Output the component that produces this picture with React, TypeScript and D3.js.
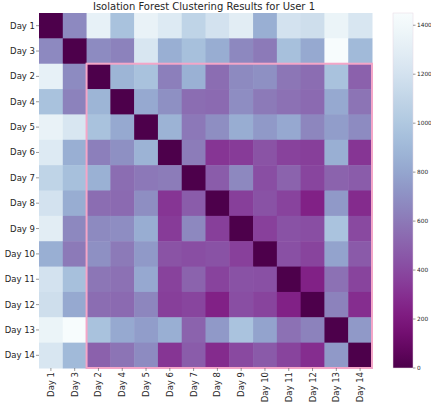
import React from 'react';
import * as d3 from 'd3';

// row/column order as in the picture
const days = ['Day 1', 'Day 3', 'Day 2', 'Day 4', 'Day 5', 'Day 6', 'Day 7', 'Day 8', 'Day 9', 'Day 10', 'Day 11', 'Day 12', 'Day 13', 'Day 14'];

// pairwise distances
const distances = [
  [0, 670, 1330, 960, 1340, 1260, 1090, 1200, 1290, 850, 1200, 1170, 1360, 1230],
  [670, 0, 680, 640, 1230, 850, 950, 840, 665, 605, 950, 820, 1450, 910],
  [1330, 680, 0, 880, 960, 630, 860, 550, 675, 700, 590, 550, 960, 500],
  [960, 640, 880, 0, 820, 700, 550, 540, 690, 605, 570, 540, 820, 580],
  [1340, 1230, 960, 820, 0, 870, 600, 695, 840, 740, 815, 660, 760, 680],
  [1260, 850, 630, 700, 870, 0, 615, 320, 345, 440, 370, 360, 850, 320],
  [1090, 950, 860, 550, 600, 615, 0, 480, 665, 420, 510, 385, 510, 480],
  [1200, 840, 550, 540, 695, 320, 480, 0, 360, 435, 375, 240, 740, 280],
  [1290, 665, 675, 690, 840, 345, 665, 360, 0, 365, 435, 420, 970, 400],
  [850, 605, 700, 605, 740, 440, 420, 435, 365, 0, 430, 380, 790, 470],
  [1200, 950, 590, 570, 815, 370, 510, 375, 435, 430, 0, 240, 570, 380],
  [1170, 820, 550, 540, 660, 360, 385, 240, 420, 380, 240, 0, 640, 290],
  [1360, 1450, 960, 820, 760, 850, 510, 740, 970, 790, 570, 640, 0, 740],
  [1230, 910, 500, 580, 680, 320, 480, 280, 400, 470, 380, 290, 740, 0],
];

const colorTicks = [0, 200, 400, 600, 800, 1000, 1200, 1400];
const title = 'Isolation Forest Clustering Results for User 1';

const W = 431;
const H = 402;
const left = 39;
const right = 372;
const top = 13;
const bottom = 368;
const cbX = 393;
const cbW = 20;
const font = 'DejaVu Sans, sans-serif';
const textColor = '#262626';

export default function App() {
  const vmax = d3.max(distances.flat()) as number;
  const color = d3.scaleSequential((t: number) => d3.interpolateBuPu(1 - t)).domain([0, vmax]);

  const x = d3.scaleBand<string>().domain(days).range([left, right]);
  const y = d3.scaleBand<string>().domain(days).range([top, bottom]);
  const cy = d3.scaleLinear().domain([0, vmax]).range([bottom, top]);

  const stops = d3.range(0, 1.0001, 0.05);
  const boxStart = days.indexOf('Day 2');

  return (
    <svg width={W} height={H} style={{ position: 'absolute', left: 0, top: 0, background: '#fff' }} fontFamily={font}>
      <defs>
        <linearGradient id="cb" x1="0" y1="1" x2="0" y2="0">
          {stops.map((s) => (
            <stop key={s} offset={s} stopColor={color(s * vmax)} />
          ))}
        </linearGradient>
      </defs>

      <text x={204} y={10} textAnchor="middle" fontSize={10} fill={textColor}>
        {title}
      </text>

      {distances.map((row, i) =>
        row.map((v, j) => (
          <rect
            key={`${i}-${j}`}
            x={x(days[j])}
            y={y(days[i])}
            width={x.bandwidth() + 0.5}
            height={y.bandwidth() + 0.5}
            fill={color(v)}
          />
        ))
      )}

      {/* highlighted cluster */}
      <rect
        x={x(days[boxStart])}
        y={y(days[boxStart])}
        width={right - (x(days[boxStart]) as number)}
        height={bottom - (y(days[boxStart]) as number)}
        fill="none"
        stroke="#f4a6c8"
        strokeWidth={2}
      />

      {/* row labels */}
      {days.map((d) => {
        const yc = (y(d) as number) + y.bandwidth() / 2;
        return (
          <g key={d}>
            <line x1={left - 3} x2={left} y1={yc} y2={yc} stroke="#555" strokeWidth={0.6} />
            <text x={left - 4} y={yc} dy="0.35em" textAnchor="end" fontSize={8.5} fill={textColor}>
              {d}
            </text>
          </g>
        );
      })}

      {/* column labels */}
      {days.map((d) => {
        const xc = (x(d) as number) + x.bandwidth() / 2;
        return (
          <g key={d}>
            <line x1={xc} x2={xc} y1={bottom} y2={bottom + 3} stroke="#555" strokeWidth={0.6} />
            <text
              transform={`translate(${xc},${bottom + 4}) rotate(-90)`}
              dy="0.35em"
              textAnchor="end"
              fontSize={8.5}
              fill={textColor}
            >
              {d}
            </text>
          </g>
        );
      })}

      {/* colour bar */}
      <rect x={cbX} y={top} width={cbW} height={bottom - top} fill="url(#cb)" stroke="#e8d8e4" strokeWidth={0.5} />
      {colorTicks.map((t) => (
        <g key={t}>
          <line x1={cbX + cbW} x2={cbX + cbW + 2.5} y1={cy(t)} y2={cy(t)} stroke="#555" strokeWidth={0.6} />
          <text x={cbX + cbW + 4} y={cy(t)} dy="0.35em" fontSize={5.8} fill={textColor}>
            {t}
          </text>
        </g>
      ))}
    </svg>
  );
}
